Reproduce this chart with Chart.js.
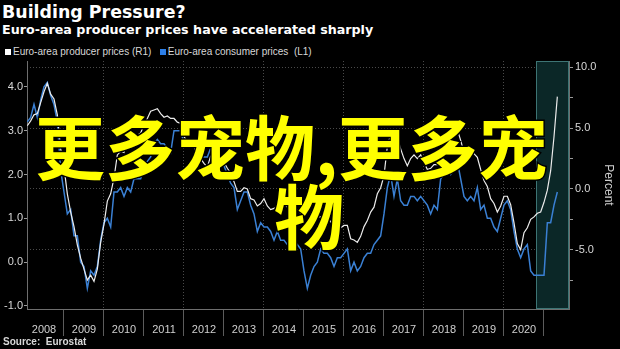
<!DOCTYPE html>
<html>
<head>
<meta charset="utf-8">
<script src="https://cdn.jsdelivr.net/npm/chart.js@4.4.1/dist/chart.umd.min.js"></script>
<style>
  body { margin: 0; background: #000; width: 620px; height: 349px; overflow: hidden; position: relative; }
  #grafico { position: absolute; left: 0; top: 0; }
  .titulo { position: absolute; left: 2px; top: 4px; font: bold 17.4px 'DejaVu Sans'; line-height: 17.4px; color: #fff; white-space: nowrap; }
  .subtitulo { position: absolute; left: 2px; top: 24px; font: bold 12.7px 'DejaVu Sans'; line-height: 12.7px; color: #fff; white-space: nowrap; }
  .leyenda { position: absolute; left: 5px; top: 47px; font: 10px 'Liberation Sans'; line-height: 10px; color: #d8d8d8; white-space: pre; }
  .leyenda span.caja { display: inline-block; width: 6px; height: 6px; margin-right: 2px; }
  .fuente { position: absolute; left: 3px; top: 337px; font: bold 10px 'Liberation Sans'; line-height: 10px; color: #d8d8d8; white-space: pre; }
  #marca { position: absolute; left: 0; top: 0; pointer-events: none; }
  #marca text { font-family: 'Noto Sans CJK SC'; font-weight: 700; font-size: 70px; fill: #ffff00; stroke: #000; stroke-width: 3px; paint-order: stroke; }
</style>
</head>
<body>
<div class="titulo">Building Pressure?</div>
<div class="subtitulo">Euro-area producer prices have accelerated sharply</div>
<div class="leyenda" id="leyenda"></div>
<canvas id="grafico" width="620" height="349"></canvas>
<div class="fuente">Source:  Eurostat</div>
<svg id="marca" width="620" height="349">
  <text x="35" y="175">更多宠物,更多宠</text>
  <text x="274" y="244">物</text>
</svg>
<script>
// series names and colours
var nombres = ['Euro-area producer prices (R1)', 'Euro-area consumer prices  (L1)']
var colores = ['#ececec', '#3a80d4']
var coloresCaja = ['#ffffff', '#2d7fe8']

// monthly, Jan 2008 .. Apr 2021
var ppi = [
  5.2, 5.6, 6.1, 6.2, 7.1, 8.0, 8.7, 7.8, 7.4, 6.1, 3.3, 1.8,
  -0.4, -1.9, -3.1, -4.6, -5.7, -6.6, -7.5, -7.1, -7.6, -6.6, -4.4, -2.9,
  -1.0, -0.4, 0.9, 2.8, 3.1, 3.0, 4.0, 3.6, 4.3, 4.4, 4.6, 5.3,
  5.8, 6.4, 6.5, 6.6, 6.2, 5.9, 6.0, 5.8, 5.8, 5.5, 5.4, 4.3,
  3.9, 3.7, 3.5, 2.8, 2.5, 2.1, 1.8, 2.7, 2.7, 2.5, 2.1, 2.2,
  1.7, 1.3, 0.6, -0.2, -0.2, 0.1, 0.0, -0.8, -0.9, -1.4, -1.2, -0.8,
  -1.4, -1.7, -1.6, -1.4, -1.3, -1.2, -1.5, -1.7, -1.8, -1.7, -2.0, -2.7,
  -3.4, -2.8, -2.3, -2.3, -2.3, -2.4, -2.3, -2.7, -3.1, -3.1, -3.2, -3.0,
  -3.0, -4.1, -4.2, -4.4, -3.9, -3.1, -2.6, -1.9, -1.5, -0.4, 0.1, 1.1,
  3.5, 4.5, 3.9, 4.3, 3.3, 2.5, 1.9, 2.5, 2.8, 2.5, 2.8, 2.2,
  1.6, 1.7, 2.0, 2.0, 3.0, 3.6, 4.0, 4.2, 4.5, 4.9, 4.0, 3.0,
  2.9, 3.0, 2.9, 2.6, 1.6, 0.7, 0.2, -0.8, -1.2, -1.9, -1.4, -0.6,
  -0.6, -1.3, -2.8, -4.5, -5.0, -3.6, -3.2, -2.5, -2.3, -2.0, -1.9, -1.1,
  -0.1, 1.5, 4.3, 7.6
]
var ipc = [
  3.2, 3.3, 3.6, 3.3, 3.7, 4.0, 4.1, 3.8, 3.6, 3.2, 2.1, 1.6,
  1.1, 1.2, 0.6, 0.6, 0.0, -0.1, -0.6, -0.2, -0.3, -0.1, 0.5, 0.9,
  1.0, 0.8, 1.6, 1.6, 1.7, 1.5, 1.7, 1.6, 1.9, 1.9, 1.9, 2.2,
  2.3, 2.4, 2.7, 2.8, 2.7, 2.7, 2.6, 2.5, 3.0, 3.0, 3.0, 2.7,
  2.7, 2.7, 2.7, 2.6, 2.4, 2.4, 2.4, 2.6, 2.6, 2.5, 2.2, 2.2,
  2.0, 1.8, 1.7, 1.2, 1.4, 1.6, 1.6, 1.3, 1.1, 0.7, 0.9, 0.8,
  0.8, 0.7, 0.5, 0.7, 0.5, 0.5, 0.4, 0.4, 0.3, 0.4, 0.3, -0.2,
  -0.6, -0.3, -0.1, 0.0, 0.3, 0.2, 0.2, 0.1, -0.1, 0.1, 0.1, 0.2,
  0.3, -0.2, 0.0, -0.2, -0.1, 0.1, 0.2, 0.2, 0.4, 0.5, 0.6, 1.1,
  1.7, 2.0, 1.5, 1.9, 1.4, 1.3, 1.3, 1.5, 1.5, 1.4, 1.5, 1.4,
  1.3, 1.1, 1.3, 1.2, 1.9, 2.0, 2.1, 2.0, 2.1, 2.3, 1.9, 1.5,
  1.4, 1.5, 1.4, 1.7, 1.2, 1.3, 1.0, 1.0, 0.8, 0.7, 1.0, 1.3,
  1.4, 1.2, 0.7, 0.3, 0.1, 0.3, 0.4, -0.2, -0.3, -0.3, -0.3, -0.3,
  0.9, 0.9, 1.3, 1.6
]

// axis ticks
var cortesAnio = [2009, 2010, 2011, 2012, 2013, 2014, 2015, 2016, 2017, 2018, 2019, 2020, 2021]
var etiquetasAnio = ['2008', '2009', '2010', '2011', '2012', '2013', '2014', '2015', '2016', '2017', '2018', '2019', '2020']
var ticksIzq = [-1, 0, 1, 2, 3, 4]
var ticksDer = [-7.5, -5, -2.5, 0, 2.5, 5, 7.5, 10]
var inicioSombra = 2020.8

function puntos(arr) {
  return arr.map(function (v, i) { return { x: 2008 + (i + 1) / 12, y: v } })
}

// legend
var ley = document.getElementById('leyenda')
for (var i = 0; i < nombres.length; i++) {
  var caja = document.createElement('span')
  caja.className = 'caja'
  caja.style.background = coloresCaja[i]
  ley.appendChild(caja)
  var t = document.createElement('span')
  t.textContent = nombres[i] + (i < nombres.length - 1 ? '   ' : '')
  ley.appendChild(t)
}

const sombra = {
  id: 'sombra',
  beforeDatasetsDraw(chart) {
    const { ctx, chartArea, scales } = chart
    const x0 = Math.round(scales.x.getPixelForValue(inicioSombra))
    ctx.save()
    ctx.fillStyle = '#0b2727'
    ctx.fillRect(x0, chartArea.top, chartArea.right - x0, chartArea.bottom - chartArea.top)
    ctx.strokeStyle = '#3d7474'
    ctx.lineWidth = 1
    ctx.strokeRect(x0 + 0.5, chartArea.top + 0.5, chartArea.right - x0 - 1, chartArea.bottom - chartArea.top - 1)
    ctx.restore()
  }
}

const fuenteTicks = { family: 'Liberation Sans', size: 11 }

const grafico = new Chart(document.getElementById('grafico'), {
  type: 'line',
  data: {
    datasets: [{
      label: nombres[0],
      data: puntos(ppi),
      yAxisID: 'y1',
      borderColor: colores[0],
      borderWidth: 1.2,
      pointRadius: 0,
      tension: 0
    }, {
      label: nombres[1],
      data: puntos(ipc),
      yAxisID: 'y',
      borderColor: colores[1],
      borderWidth: 1.5,
      pointRadius: 0,
      tension: 0
    }]
  },
  options: {
    responsive: false,
    animation: false,
    layout: { padding: { top: 61, left: 0, right: 0, bottom: 0 } },
    plugins: { legend: { display: false }, tooltip: { enabled: false } },
    scales: {
      x: {
        type: 'linear',
        position: 'bottom',
        min: 2008.075,
        max: 2021.625,
        afterBuildTicks: function (s) { s.ticks = cortesAnio.map(function (v) { return { value: v } }) },
        afterFit: function (s) { s.height = 40 },
        ticks: {
          autoSkip: false, maxRotation: 0, color: '#d0d0d0', font: fuenteTicks,
          labelOffset: -20, padding: -13,
          callback: function (v, i) { return etiquetasAnio[i] }
        },
        grid: {
          color: function (c) { return (c.tick && c.tick.value % 2 === 0) ? '#4a4a4a' : 'rgba(0,0,0,0)' },
          tickColor: '#5c5c5c',
          tickLength: 27,
          lineWidth: 1
        },
        border: { color: '#6e6e6e', dash: [1, 2] }
      },
      y: {
        position: 'left',
        min: -1.07,
        max: 4.59,
        afterBuildTicks: function (s) { s.ticks = ticksIzq.map(function (v) { return { value: v } }) },
        afterFit: function (s) { s.width = 27 },
        ticks: { color: '#d8d8d8', font: fuenteTicks, padding: 1, callback: function (v) { return v.toFixed(1) } },
        grid: { drawOnChartArea: false, tickLength: 3, tickColor: '#9a9a9a' },
        border: { color: '#6e6e6e' }
      },
      y1: {
        position: 'right',
        min: -9.88,
        max: 10.53,
        afterBuildTicks: function (s) { s.ticks = ticksDer.map(function (v) { return { value: v } }) },
        afterFit: function (s) { s.width = 51 },
        ticks: { color: '#d8d8d8', font: fuenteTicks, padding: 2, callback: function (v) { return v % 5 === 0 ? v.toFixed(1) : '' } },
        grid: {
          color: function (c) { return (c.tick && c.tick.value % 5 === 0) ? '#4a4a4a' : 'rgba(0,0,0,0)' },
          tickColor: '#9a9a9a',
          tickLength: 4
        },
        border: { color: '#6e6e6e', dash: [1, 2] },
        title: { display: true, text: 'Percent', color: '#cfcfcf', font: { family: 'Liberation Sans', size: 12 }, padding: { top: 4, bottom: 0 } }
      }
    }
  },
  plugins: [sombra]
})
</script>
</body>
</html>
